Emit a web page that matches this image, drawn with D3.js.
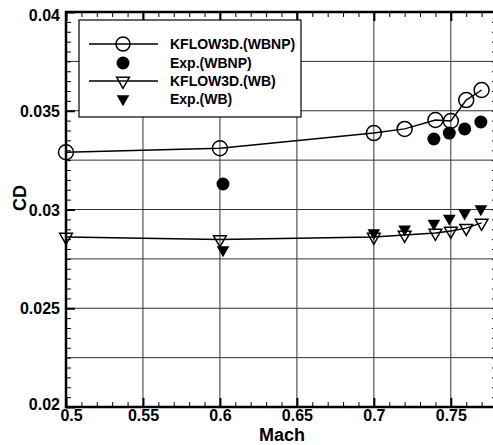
<!DOCTYPE html>
<html><head><meta charset="utf-8">
<script src="https://cdn.jsdelivr.net/npm/d3@7"></script>
<style>body{margin:0;background:#fff;}svg{display:block;font-family:"Liberation Sans",Arial,sans-serif;font-weight:bold;}</style>
</head><body><svg id="c" width="493" height="445"></svg>
<script>
const machModel = [0.5, 0.6, 0.7, 0.72, 0.74, 0.75, 0.76, 0.77];
const cdModelWBNP = [0.0329, 0.0331, 0.03387, 0.03408, 0.03453, 0.03448, 0.03554, 0.03605];
const cdModelWB = [0.02861, 0.02848, 0.02861, 0.02871, 0.02881, 0.02891, 0.02906, 0.02932];
const machExpWBNP = [0.602, 0.739, 0.749, 0.759, 0.7695];
const cdExpWBNP = [0.03129, 0.03357, 0.03387, 0.03408, 0.03443];
const machExpWB = [0.602, 0.7, 0.72, 0.739, 0.749, 0.759, 0.7695];
const cdExpWB = [0.02795, 0.02881, 0.02901, 0.0293, 0.02955, 0.02982, 0.03003];
const xTicks = [0.5, 0.55, 0.6, 0.65, 0.7, 0.75];
const xTickLabels = ["0.5", "0.55", "0.6", "0.65", "0.7", "0.75"];
const yTicks = [0.02, 0.025, 0.03, 0.035, 0.04];
const yTickLabels = ["0.02", "0.025", "0.03", "0.035", "0.04"];
const legendLabels = ["KFLOW3D.(WBNP)", "Exp.(WBNP)", "KFLOW3D.(WB)", "Exp.(WB)"];

(function(){
const svg = d3.select("#c");
const FONT = "Liberation Sans, Arial, sans-serif";
const L = 66, R = 497, T = 12, B = 407;
const x = d3.scaleLinear().domain([0.5, 0.78]).range([L, R]);
const y = d3.scaleLinear().domain([0.02, 0.04]).range([B, T]);

// grid
const gx = d3.range(0.55, 0.7801, 0.05);
const gy = d3.range(0.0225, 0.03999, 0.0025);
svg.append("g").selectAll("line").data(gx).join("line")
  .attr("x1", d => x(d)).attr("x2", d => x(d)).attr("y1", T).attr("y2", B)
  .attr("stroke", "#333").attr("stroke-width", 1);
svg.append("g").selectAll("line").data(gy).join("line")
  .attr("x1", L).attr("x2", R).attr("y1", d => y(d)).attr("y2", d => y(d))
  .attr("stroke", "#333").attr("stroke-width", 1);

// axes with inward ticks
const xMinor = d3.range(0.5, 0.7801, 0.01);
const yMinor = d3.range(0.02, 0.04001, 0.0005);
const axB = d3.axisBottom(x).tickValues(xMinor).tickSize(-5).tickFormat("");
const axT = d3.axisTop(x).tickValues(xMinor).tickSize(-5).tickFormat("");
const axL = d3.axisLeft(y).tickValues(yMinor).tickSize(-5).tickFormat("");
const axR = d3.axisRight(y).tickValues(yMinor).tickSize(-5).tickFormat("");
[[axB,`translate(0,${B})`],[axT,`translate(0,${T})`],[axL,`translate(${L},0)`],[axR,`translate(${R},0)`]].forEach(([a,t])=>{
  const g = svg.append("g").attr("transform", t).call(a);
  g.select(".domain").remove();
  g.selectAll("line").attr("stroke","#000").attr("stroke-width",1);
});
const bMaj = d3.axisBottom(x).tickValues(xTicks).tickSize(-9).tickFormat((d,i)=>xTickLabels[i]).tickPadding(3);
const lMaj = d3.axisLeft(y).tickValues(yTicks).tickSize(-9).tickFormat((d,i)=>yTickLabels[i]).tickPadding(6);
const tMaj = d3.axisTop(x).tickValues(xTicks).tickSize(-9).tickFormat("");
const gb = svg.append("g").attr("transform", `translate(0,${B})`).call(bMaj);
const gl = svg.append("g").attr("transform", `translate(${L},0)`).call(lMaj);
const gt = svg.append("g").attr("transform", `translate(0,${T})`).call(tMaj);
[gb, gl, gt].forEach(g => {
  g.attr("font-family", FONT).attr("font-size", 16);
  g.select(".domain").remove();
  g.selectAll("line").attr("stroke","#000").attr("stroke-width",2);
  g.selectAll("text").attr("fill","#000").style("font-weight","bold");
});
gl.selectAll("text").attr("dy","0.35em");
gl.selectAll("text").filter(d => d === 0.02).attr("dy","0.15em");
gl.selectAll("text").filter(d => d === 0.04).attr("dy","0.5em");
gb.selectAll("text").filter(d => d === 0.5).attr("dx","5");

svg.append("rect").attr("x", L).attr("y", T).attr("width", R - L).attr("height", B - T)
  .attr("fill", "none").attr("stroke", "#000").attr("stroke-width", 2.5);

// axis titles
svg.append("text").attr("x", 282).attr("y", 441).attr("text-anchor","middle")
  .attr("font-family", FONT).attr("font-size", 18).style("font-weight","bold").text("Mach");
svg.append("text").attr("transform","translate(26,198) rotate(-90)").attr("text-anchor","middle")
  .attr("font-family", FONT).attr("font-size", 18).style("font-weight","bold").text("CD");

// series
const line = d3.line().x(d => x(d[0])).y(d => y(d[1]));
const sWBNP = machModel.map((m,i)=>[m, cdModelWBNP[i]]);
const sWB = machModel.map((m,i)=>[m, cdModelWB[i]]);
const eWBNP = machExpWBNP.map((m,i)=>[m, cdExpWBNP[i]]);
const eWB = machExpWB.map((m,i)=>[m, cdExpWB[i]]);
const tri = d3.symbol().type(d3.symbolTriangle).size(70);

svg.append("path").datum(sWBNP).attr("d", line).attr("fill","none").attr("stroke","#000").attr("stroke-width",1.4);
svg.append("path").datum(sWB).attr("d", line).attr("fill","none").attr("stroke","#000").attr("stroke-width",1.4);

svg.append("g").selectAll("circle").data(sWBNP).join("circle")
  .attr("cx", d => x(d[0])).attr("cy", d => y(d[1])).attr("r", 7.5)
  .attr("fill","none").attr("stroke","#000").attr("stroke-width",1.5);
svg.append("g").selectAll("circle").data(eWBNP).join("circle")
  .attr("cx", d => x(d[0])).attr("cy", d => y(d[1])).attr("r", 6.5).attr("fill","#000");
svg.append("g").selectAll("path").data(sWB).join("path")
  .attr("d", tri).attr("transform", d => `translate(${x(d[0])},${y(d[1])}) rotate(180)`)
  .attr("fill","none").attr("stroke","#000").attr("stroke-width",1.5);
svg.append("g").selectAll("path").data(eWB).join("path")
  .attr("d", tri).attr("transform", d => `translate(${x(d[0])},${y(d[1])}) rotate(180)`)
  .attr("fill","#000");

// legend
const lg = svg.append("g");
lg.append("rect").attr("x", 79).attr("y", 20).attr("width", 222).attr("height", 97)
  .attr("fill","#fff").attr("stroke","#000").attr("stroke-width",1.2);
const rows = [44, 63, 81, 99];
const sx = 123;
lg.append("line").attr("x1",89).attr("x2",158).attr("y1",rows[0]).attr("y2",rows[0]).attr("stroke","#000").attr("stroke-width",1.4);
lg.append("circle").attr("cx",sx).attr("cy",rows[0]).attr("r",7).attr("fill","none").attr("stroke","#000").attr("stroke-width",1.5);
lg.append("circle").attr("cx",sx).attr("cy",rows[1]).attr("r",6.5).attr("fill","#000");
lg.append("line").attr("x1",89).attr("x2",158).attr("y1",rows[2]).attr("y2",rows[2]).attr("stroke","#000").attr("stroke-width",1.4);
lg.append("path").attr("d", tri).attr("transform",`translate(${sx},${rows[2]}) rotate(180)`).attr("fill","none").attr("stroke","#000").attr("stroke-width",1.5);
lg.append("path").attr("d", tri).attr("transform",`translate(${sx},${rows[3]}) rotate(180)`).attr("fill","#000");
lg.selectAll("text.l").data(legendLabels).join("text").attr("class","l")
  .attr("x", 170).attr("y", (d,i)=>rows[i]).attr("dy","0.36em")
  .attr("font-family", FONT).attr("font-size",14).style("font-weight","bold").text(d=>d);
})();
</script></body></html>
